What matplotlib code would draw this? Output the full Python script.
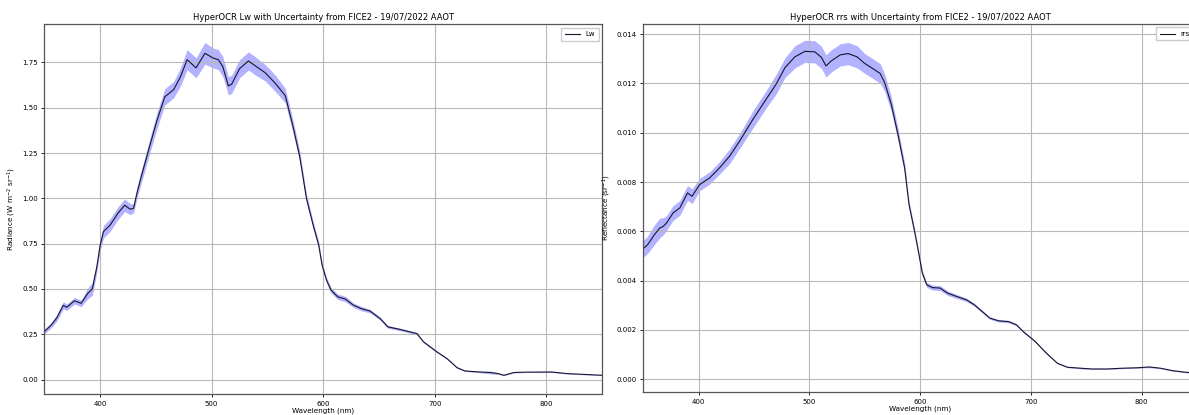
import numpy as np
import matplotlib
matplotlib.use("Agg")
import matplotlib.pyplot as plt

# Lw spectrum (radiance)
lw_wl = [350, 356, 361, 367, 370, 377, 383, 389, 393, 397,
         400, 403, 409, 416, 422, 427, 430, 433, 436, 445,
         451, 458, 466, 472, 478, 486, 494, 501, 506, 510,
         515, 518, 525, 533, 540, 548, 557, 566, 573, 579,
         585, 591, 596, 599, 603, 607, 613, 620, 627, 634,
         642, 651, 658, 668, 678, 684, 690, 702, 711, 720,
         727, 740, 750, 757, 762, 771, 781, 805, 819, 836, 850]
lw_val = [0.265, 0.300, 0.339, 0.410, 0.399, 0.435, 0.421, 0.476, 0.500, 0.620,
          0.740, 0.816, 0.853, 0.918, 0.962, 0.940, 0.945, 1.028, 1.100, 1.300,
          1.430, 1.560, 1.600, 1.670, 1.765, 1.720, 1.800, 1.775, 1.765, 1.727,
          1.620, 1.630, 1.715, 1.758, 1.727, 1.693, 1.635, 1.567, 1.395, 1.230,
          1.000, 0.853, 0.742, 0.632, 0.549, 0.494, 0.457, 0.444, 0.411, 0.392,
          0.378, 0.337, 0.291, 0.278, 0.263, 0.254, 0.208, 0.153, 0.116, 0.066,
          0.048, 0.042, 0.039, 0.033, 0.024, 0.039, 0.041, 0.042, 0.033, 0.028, 0.024]
lw_unc = [0.012, 0.015, 0.018, 0.020, 0.018, 0.018, 0.018, 0.030, 0.035, 0.030,
          0.030, 0.035, 0.035, 0.035, 0.035, 0.030, 0.025, 0.030, 0.035, 0.040,
          0.045, 0.045, 0.045, 0.050, 0.055, 0.055, 0.060, 0.055, 0.055, 0.055,
          0.050, 0.050, 0.050, 0.050, 0.050, 0.045, 0.045, 0.040, 0.035, 0.030,
          0.025, 0.020, 0.018, 0.015, 0.015, 0.015, 0.015, 0.015, 0.012, 0.012,
          0.010, 0.008, 0.008, 0.007, 0.007, 0.006, 0.005, 0.005, 0.004, 0.004,
          0.003, 0.004, 0.008, 0.004, 0.003, 0.002, 0.002, 0.003, 0.002, 0.002, 0.002]

# rrs spectrum (reflectance)
rrs_wl = [350, 354, 360, 365, 368, 371, 377, 383, 390, 394,
          401, 410, 419, 428, 437, 449, 461, 470, 478, 487,
          496, 505, 511, 515, 520, 528, 535, 543, 550, 558,
          564, 568, 574, 580, 586, 590, 595, 599, 602, 606,
          611, 618, 625, 633, 642, 649, 656, 663, 671, 680,
          687, 693, 704, 714, 724, 733, 745, 755, 769, 783,
          797, 807, 817, 828, 841, 850]
rrs_val = [0.00530, 0.00546, 0.00586, 0.00614, 0.00620, 0.00634, 0.00675, 0.00695, 0.00756, 0.00742,
           0.00790, 0.00817, 0.00858, 0.00905, 0.00966, 0.01054, 0.01136, 0.01197, 0.01264, 0.01308,
           0.01330, 0.01328, 0.01305, 0.01271, 0.01292, 0.01316, 0.01321, 0.01308, 0.01281, 0.01258,
           0.01240, 0.01203, 0.01115, 0.00993, 0.00858, 0.00708, 0.00600, 0.00505, 0.00431, 0.00383,
           0.00372, 0.00370, 0.00349, 0.00336, 0.00322, 0.00302, 0.00275, 0.00248, 0.00237, 0.00234,
           0.00221, 0.00194, 0.00153, 0.00106, 0.00065, 0.00049, 0.00045, 0.00042, 0.00042, 0.00045,
           0.00047, 0.00050, 0.00045, 0.00035, 0.00028, 0.00027]
rrs_unc = [0.00035, 0.00035, 0.00040, 0.00040, 0.00035, 0.00030, 0.00030, 0.00030, 0.00030, 0.00030,
           0.00025, 0.00025, 0.00025, 0.00030, 0.00030, 0.00035, 0.00035, 0.00040, 0.00040, 0.00045,
           0.00045, 0.00045, 0.00045, 0.00045, 0.00045, 0.00045, 0.00045, 0.00045, 0.00040, 0.00040,
           0.00040, 0.00035, 0.00030, 0.00025, 0.00020, 0.00015, 0.00012, 0.00010, 0.00010, 0.00010,
           0.00010, 0.00010, 0.00009, 0.00008, 0.00007, 0.00006, 0.00005, 0.00005, 0.00005, 0.00005,
           0.00004, 0.00004, 0.00003, 0.00003, 0.00002, 0.00002, 0.00003, 0.00002, 0.00002, 0.00002,
           0.00002, 0.00003, 0.00002, 0.00002, 0.00002, 0.00002]

date_str = "19/07/2022"
site = "AAOT"

fig = plt.figure(figsize=(11.89, 4.15), dpi=100)

# the right panel runs slightly past the figure edge, like in the cropped screenshot
ax1 = fig.add_axes([0.0373, 0.0499, 0.469, 0.8915])
ax2 = fig.add_axes([0.541, 0.0547, 0.4657, 0.8875])


def draw_panel(ax, wl, val, unc, label, title, ylabel, ylim):
    wl = np.array(wl)
    val = np.array(val)
    unc = np.array(unc)
    ax.fill_between(wl, val - unc, val + unc, color='blue', alpha=0.3, linewidth=0)
    ax.plot(wl, val, color='#15152e', linewidth=0.8, label=label)
    ax.set_xlim(350, 850)
    ax.set_ylim(*ylim)
    ax.set_title(title, fontsize=6, pad=3)
    ax.set_xlabel('Wavelength (nm)', fontsize=5.2, labelpad=1)
    ax.set_ylabel(ylabel, fontsize=5.2, labelpad=3)
    ax.tick_params(labelsize=5, length=2.5, width=0.6, pad=2)
    ax.grid(True, color='#b8b8b8', linewidth=0.8)
    for s in ax.spines.values():
        s.set_color('#555555')
        s.set_linewidth(0.9)
    ax.legend(loc='upper right', fontsize=5, handlelength=2.2, borderpad=0.5,
              fancybox=False, framealpha=1, edgecolor='#cccccc')


draw_panel(ax1, lw_wl, lw_val, lw_unc, 'Lw',
           f'HyperOCR Lw with Uncertainty from FICE2 - {date_str} {site}',
           r'Radiance (W m$^{-2}$ sr$^{-1}$)', (-0.081, 1.96))
ax1.set_yticks([0.0, 0.25, 0.5, 0.75, 1.0, 1.25, 1.5, 1.75])

draw_panel(ax2, rrs_wl, rrs_val, rrs_unc, 'rrs',
           f'HyperOCR rrs with Uncertainty from FICE2 - {date_str} {site}',
           r'Reflectance (sr$^{-1}$)', (-0.000527, 0.01441))
ax2.set_yticks([0.0, 0.002, 0.004, 0.006, 0.008, 0.010, 0.012, 0.014])
ax2.set_yticklabels([f'{v:.3f}' for v in ax2.get_yticks()])

fig.savefig('out.png', dpi=100)
